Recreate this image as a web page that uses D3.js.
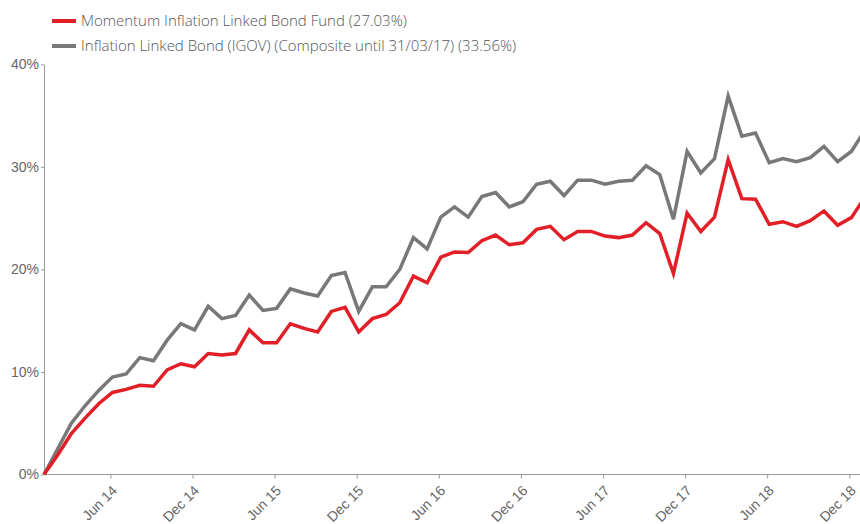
<!DOCTYPE html>
<html lang="en">
<head>
<meta charset="UTF-8">
<title>Inflation Linked Bond Fund</title>
<script src="https://d3js.org/d3.v7.min.js"></script>
<style>
  body { margin: 0; background: #fff; overflow: hidden; }
  svg { display: block; font-family: "Open Sans", Roboto, sans-serif; }
  .axis path, .axis line { stroke: #9a9a9a; }
  .axis text { fill: #666; font-size: 14px; font-weight: 300; }
  .legend text { fill: #555; font-size: 15px; font-weight: 300; }
  .line { fill: none; stroke-width: 3.5px; stroke-linejoin: miter; }
</style>
</head>
<body>
<script>
// monthly points, Jan 14 .. Jan 19
const months = d3.timeMonths(new Date(2014, 0, 1), new Date(2019, 1, 1));

const fund = [0, 1.9, 4.0, 5.5, 6.9, 8.0, 8.3, 8.7, 8.6, 10.2, 10.8, 10.5,
  11.8, 11.65, 11.8, 14.1, 12.85, 12.85, 14.7, 14.25, 13.9, 15.9, 16.3, 13.9,
  15.2, 15.6, 16.75, 19.35, 18.7, 21.2, 21.7, 21.65, 22.8, 23.35, 22.4, 22.6,
  23.9, 24.2, 22.9, 23.7, 23.7, 23.25, 23.1, 23.35, 24.55, 23.5,
  19.6, 25.5, 23.7, 25.1, 30.7, 26.9, 26.85, 24.4, 24.65, 24.2, 24.75, 25.7,
  24.3, 25.05, 27.03];

const bench = [0, 2.5, 5.0, 6.7, 8.2, 9.5, 9.8, 11.4, 11.1, 13.1, 14.7, 14.1,
  16.4, 15.2, 15.5, 17.5, 16.0, 16.2, 18.1, 17.7, 17.4, 19.4, 19.7, 15.9,
  18.3, 18.3, 20.0, 23.1, 22.0, 25.1, 26.1, 25.1, 27.1, 27.5, 26.1, 26.6,
  28.3, 28.6, 27.2, 28.7, 28.7, 28.3, 28.6, 28.7, 30.1, 29.25,
  24.9, 31.5, 29.4, 30.8, 36.9, 33.0, 33.3, 30.4, 30.8, 30.5, 30.9, 32.0,
  30.5, 31.5, 33.56];

const seriesNames = [
  "Momentum Inflation Linked Bond Fund (27.03%)",
  "Inflation Linked Bond (IGOV) (Composite until 31/03/17) (33.56%)"
];
const seriesColors = ["#e21f26", "#78787b"];
const yTicks = [0, 10, 20, 30, 40];
const xTickLabels = ["Jun 14", "Dec 14", "Jun 15", "Dec 15", "Jun 16", "Dec 16",
  "Jun 17", "Dec 17", "Jun 18", "Dec 18"];

const width = 860, height = 524;
const svg = d3.select("body").append("svg")
  .attr("width", width)
  .attr("height", height);

const fmt = d3.timeFormat("%b %y");
const x = d3.scalePoint()
  .domain(months.map(fmt))
  .range([44, 865]);
const y = d3.scaleLinear()
  .domain([0, 40])
  .range([474.5, 64.3]);

// axes
const xAxis = svg.append("g")
  .attr("class", "axis")
  .attr("transform", "translate(0,474.5)")
  .call(d3.axisBottom(x).tickValues(xTickLabels).tickSize(4).tickSizeOuter(0));
xAxis.select(".domain").attr("d", "M44,0H860");
xAxis.selectAll(".tick").attr("transform", d => `translate(${x(d) - 1.5},0)`);
xAxis.selectAll("text")
  .attr("text-anchor", "end")
  .attr("y", 0)
  .attr("dy", 0)
  .attr("transform", "translate(7,17) rotate(-45)");

const yAxis = svg.append("g")
  .attr("class", "axis")
  .attr("transform", "translate(44,0)")
  .call(d3.axisLeft(y).tickValues(yTicks).tickFormat(d => d + "%").tickSize(3).tickSizeOuter(0).tickPadding(2));

// lines
const line = d3.line()
  .x((d, i) => x(fmt(months[i])))
  .y(d => y(d));

[bench, fund].forEach((s, k) => {
  svg.append("path")
    .datum(s)
    .attr("class", "line")
    .attr("stroke", seriesColors[1 - k])
    .attr("d", line);
});

// legend
const legend = svg.append("g").attr("class", "legend");
seriesNames.forEach((name, i) => {
  const g = legend.append("g").attr("transform", `translate(52,${21 + i * 25})`);
  g.append("line")
    .attr("x1", 0).attr("x2", 24)
    .attr("stroke", seriesColors[i])
    .attr("stroke-width", 4);
  g.append("text")
    .attr("x", 29)
    .attr("dy", "0.35em")
    .text(name);
});
</script>
</body>
</html>
